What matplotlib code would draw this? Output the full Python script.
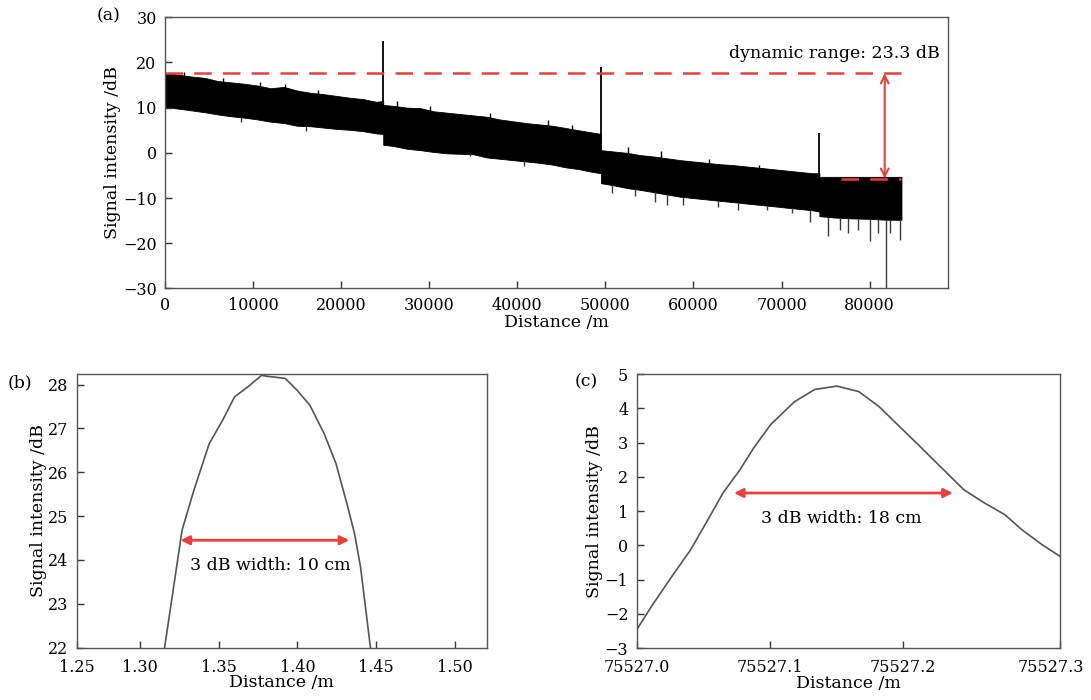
import numpy as np
import matplotlib.pyplot as plt
from matplotlib.transforms import ScaledTranslation

plt.rcParams['font.family'] = ['DejaVu Serif']
plt.rcParams['font.size'] = 12

RED = '#e8413c'

# ---- (a) full trace, band envelope ----
env_x = [0, 1500, 3000, 4500, 6000, 7500, 9000, 10500, 12000, 13500, 15000, 16500,
         18000, 19500, 21000, 22500, 24000, 24780,
         24780, 26000, 27500, 29000, 30500, 32000, 33500, 35000, 36500, 38000, 39500,
         41000, 42500, 44000, 45500, 47000, 48500, 49500,
         49500, 51000, 52500, 54000, 55500, 57000, 58500, 60000, 61500, 63000, 64500,
         66000, 67500, 69000, 70500, 72000, 73500, 74300,
         74300, 76000, 78000, 80000, 82000, 83620]
env_hi = [17.7, 17.3, 16.9, 16.6, 15.9, 15.6, 15.3, 14.9, 14.3, 14.6, 13.8, 13.3,
          13.0, 12.6, 12.2, 11.9, 11.3, 11.5,
          10.6, 10.4, 10.0, 9.9, 9.2, 8.9, 8.6, 8.3, 8.0, 7.4, 7.0,
          6.6, 6.3, 6.0, 5.5, 5.0, 4.5, 4.2,
          0.6, 0.3, 0.0, -0.5, -0.8, -1.2, -1.6, -1.9, -2.2, -2.5, -2.7,
          -3.0, -3.3, -3.6, -3.9, -4.2, -4.5, -4.5,
          -5.3, -5.3, -5.3, -5.3, -5.3, -5.3]
env_lo = [10.1, 9.8, 9.4, 9.0, 8.5, 8.1, 7.8, 7.4, 6.9, 6.6, 6.0, 5.9,
          5.6, 5.3, 5.1, 4.8, 4.3, 4.2,
          1.8, 1.5, 0.9, 0.6, 0.2, -0.1, -0.2, -0.3, -1.0, -1.3, -1.6,
          -1.9, -2.2, -2.6, -3.2, -3.6, -4.2, -4.5,
          -6.7, -7.2, -7.8, -8.2, -8.7, -9.2, -9.7, -10.0, -10.3, -10.6, -10.9,
          -11.2, -11.5, -11.8, -12.1, -12.4, -12.7, -13.0,
          -14.0, -14.3, -14.5, -14.6, -14.8, -14.8]

# reflection peaks
peak_x = [0, 24780, 49490, 74270]
peak_y = [28.1, 24.8, 19.1, 4.3]

# small upward noise bumps on the top edge
bump_x = [2200, 6600, 10800, 13600, 17400, 26300, 30100, 36900, 43470, 46200,
          52600, 56300, 61800, 67400]
bump_y = [18.0, 16.6, 15.6, 15.2, 13.9, 11.4, 10.4, 8.8, 7.3, 6.1,
          1.3, 0.5, -1.3, -2.6]

# downward noise dips
dip_x = [8600, 16000, 34620, 40800, 50700, 53400, 55620, 56950, 58830, 62800,
         65070, 68300, 71140, 73220, 75290, 76620, 77560, 78700, 80020, 80970,
         81910, 82290, 83430]
dip_y = [6.9, 4.9, -0.8, -2.8, -8.8, -9.6, -10.8, -11.5, -11.5, -11.9,
         -12.6, -12.6, -13.4, -15.2, -18.5, -17.1, -17.8, -17.1, -19.6, -17.8,
         -30.0, -17.8, -19.3]

top_level = 17.6
floor_level = -5.7
trace_end = 83620
arrow_x = 81720

# ---- (b) peak near 1.38 m ----
b_x = [1.3157, 1.3268, 1.3343, 1.3440, 1.3526, 1.3601, 1.3687, 1.3773, 1.3805,
       1.3923, 1.3998, 1.4079, 1.4170, 1.4245, 1.4320, 1.4363, 1.4401, 1.4464]
b_y = [22.0, 24.68, 25.59, 26.65, 27.19, 27.72, 27.95, 28.21, 28.19,
       28.14, 27.87, 27.53, 26.88, 26.20, 25.21, 24.60, 23.84, 22.0]
b_ticks = [1.2599, 1.30, 1.35, 1.40, 1.45, 1.50]
b_labels = ['1.25', '1.30', '1.35', '1.40', '1.45', '1.50']

# ---- (c) peak near 75527.15 m ----
c_x0 = 75527.0
c_dx = [0.0005, 0.0112, 0.0265, 0.0406, 0.0520, 0.0648, 0.0776, 0.0878, 0.1005,
        0.1184, 0.1337, 0.1503, 0.1668, 0.1821, 0.1974, 0.2128, 0.2281, 0.2459,
        0.2612, 0.2765, 0.2893, 0.3046, 0.3181]
c_y = [-2.43, -1.77, -0.90, -0.12, 0.65, 1.53, 2.21, 2.84, 3.52,
       4.19, 4.55, 4.65, 4.49, 4.05, 3.47, 2.89, 2.30, 1.62,
       1.24, 0.90, 0.46, 0.02, -0.32]
c_ticks = [0.0, 0.1, 0.2, 0.318]
c_labels = ['75527.0', '75527.1', '75527.2', '75527.3']

LBL = 12.5


def style(ax, xpad=8):
    for s in ax.spines.values():
        s.set_color('#555555')
        s.set_linewidth(1.0)
    ax.tick_params(direction='in', length=5, width=1, color='#333333',
                   top=False, right=False, labelsize=11.5, pad=6)
    ax.tick_params(axis='x', pad=xpad)


fig = plt.figure(figsize=(10.91, 7), dpi=100)

ax = fig.add_axes([0.1512, 0.5879, 0.7177, 0.3874])
style(ax, xpad=6)
ax.fill_between(env_x, env_lo, env_hi, color='black', lw=0.6)
lo_at_dip = np.interp(dip_x, env_x, env_lo)
ax.vlines(dip_x, dip_y, lo_at_dip, color='#3a3a3a', lw=1.0)
hi_at_bump = np.interp(bump_x, env_x, env_hi)
ax.vlines(bump_x, hi_at_bump - 1, bump_y, color='black', lw=1.0)
hi_at_peak = np.interp(peak_x, env_x, env_hi)
ax.vlines(peak_x, hi_at_peak - 2, peak_y, color='black', lw=1.3)
ax.plot([0, trace_end], [top_level, top_level], color=RED, lw=1.8,
        dashes=(7, 4.5))
ax.plot([76810, trace_end], [floor_level, floor_level], color=RED, lw=1.8,
        dashes=(7, 4.5))
ax.annotate('', xy=(arrow_x, floor_level), xytext=(arrow_x, top_level),
            arrowprops=dict(arrowstyle='<->', color=RED, lw=1.5,
                            mutation_scale=14, shrinkA=0, shrinkB=0))
ax.text(87970, 22.0, 'dynamic range: 23.3 dB', ha='right', va='center', fontsize=LBL)
ax.set_xlim(0, 88900)
ax.set_ylim(-30, 30)
ax.set_xticks(np.arange(0, 80001, 10000))
ax.set_yticks(np.arange(-30, 31, 10))
ax.set_xlabel('Distance /m', fontsize=LBL, labelpad=0)
ax.set_ylabel('Signal intensity /dB', fontsize=LBL, labelpad=1)
fig.text(97 / 1091, 1 - 16 / 700, '(a)', fontsize=LBL, va='center')

axb = fig.add_axes([0.0703, 0.0747, 0.3761, 0.391])
style(axb)
axb.plot(b_x, b_y, color='#555555', lw=1.2)
axb.annotate('', xy=(1.3258, 24.45), xytext=(1.4330, 24.45),
             arrowprops=dict(arrowstyle='<|-|>', color=RED, lw=2,
                             mutation_scale=13, shrinkA=0, shrinkB=0))
axb.text(1.3826, 23.88, '3 dB width: 10 cm', ha='center', va='center', fontsize=LBL)
axb.set_xlim(1.2599, 1.5204)
axb.set_ylim(22, 28.24)
axb.set_xticks(b_ticks, b_labels)
axb.set_yticks(range(22, 29))
axb.set_xlabel('Distance /m', fontsize=LBL, labelpad=-1)
axb.set_ylabel('Signal intensity /dB', fontsize=LBL, labelpad=1)
fig.text(8 / 1091, 1 - 383 / 700, '(b)', fontsize=LBL, va='center')

axc = fig.add_axes([0.5836, 0.0739, 0.388, 0.3917])
style(axc)
axc.plot([c_x0 + d for d in c_dx], c_y, color='#555555', lw=1.2)
axc.annotate('', xy=(c_x0 + 0.0730, 1.53), xytext=(c_x0 + 0.2375, 1.53),
             arrowprops=dict(arrowstyle='<|-|>', color=RED, lw=2,
                             mutation_scale=13, shrinkA=0, shrinkB=0))
axc.text(c_x0 + 0.1536, 0.80, '3 dB width: 18 cm', ha='center', va='center', fontsize=LBL)
axc.set_xlim(c_x0, c_x0 + 0.318)
axc.set_ylim(-3, 5)
axc.set_xticks([c_x0 + t for t in c_ticks], c_labels)
axc.set_yticks(range(-3, 6))
axc.set_xlabel('Distance /m', fontsize=LBL, labelpad=-1)
axc.set_ylabel('Signal intensity /dB', fontsize=LBL, labelpad=1)
fig.text(575 / 1091, 1 - 382 / 700, '(c)', fontsize=LBL, va='center')

# last label of (c) sits at the right edge; nudge it inside the figure
last = axc.get_xticklabels()[-1]
last.set_transform(last.get_transform() + ScaledTranslation(-0.09, 0, fig.dpi_scale_trans))

fig.savefig('out.png', dpi=100)
